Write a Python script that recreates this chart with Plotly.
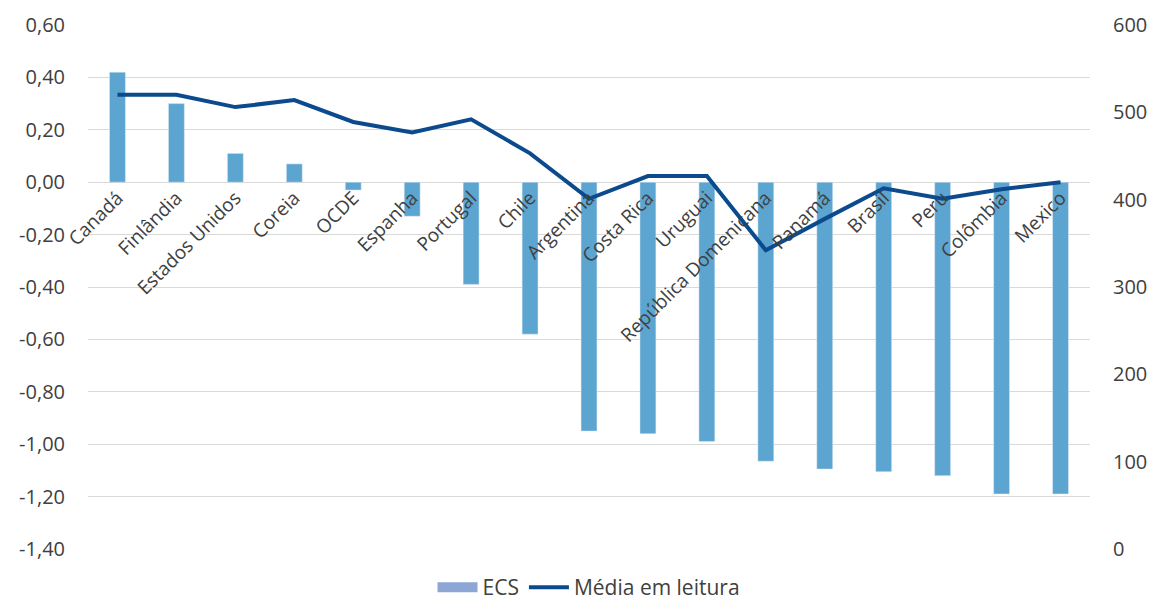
import plotly.graph_objects as go

# --- data ---
paises = [
    "Canadá", "Finlândia", "Estados Unidos", "Coreia", "OCDE", "Espanha",
    "Portugal", "Chile", "Argentina", "Costa Rica", "Uruguai",
    "República Domenicana", "Panamá", "Brasil", "Peru", "Colômbia", "Mexico",
]
ecs = [0.42, 0.30, 0.11, 0.07, -0.03, -0.13, -0.39, -0.58, -0.95, -0.96,
       -0.99, -1.065, -1.095, -1.105, -1.12, -1.19, -1.19]
media_leitura = [520, 520, 506, 514, 489, 477, 492, 453, 401, 427, 427,
                 342, 378, 413, 401, 412, 420]

ecs_ticks = [0.6, 0.4, 0.2, 0.0, -0.2, -0.4, -0.6, -0.8, -1.0, -1.2, -1.4]
leitura_ticks = [0, 100, 200, 300, 400, 500, 600]

BAR_COLOR = "#5BA5D0"
LINE_COLOR = "#0B4A8C"
LEGEND_BAR = "#8EA6D6"
TEXT = "#404040"
GRID = "#D9D9D9"
FONT = "Open Sans"

W, H = 1157, 600
M_TOP, M_BOTTOM = 17, 0
PLOT_BOTTOM = 541  # pixel row of the lowest gridline inside the figure

# Excel-style labels: comma decimal and a plain hyphen for negatives
ecs_ticktext = [f"{v:.2f}".replace(".", ",") for v in ecs_ticks]

# keep the legend inside the paper so it doesn't push the margins around
paper_h = H - M_TOP - M_BOTTOM
dom0 = (H - M_BOTTOM - PLOT_BOTTOM) / paper_h
y_lo, y_hi = -1.4, 0.6
zero_frac = dom0 + (0 - y_lo) / (y_hi - y_lo) * (1 - dom0)

fig = go.Figure()

fig.add_trace(go.Bar(
    x=paises, y=ecs, name="ECS", marker_color=BAR_COLOR,
    showlegend=False, yaxis="y",
))
# legend swatch for the bars (wide rectangle, as in the original)
fig.add_trace(go.Scatter(
    x=[None], y=[None], mode="lines", name="ECS",
    line=dict(color=LEGEND_BAR, width=12), yaxis="y",
))
fig.add_trace(go.Scatter(
    x=paises, y=media_leitura, name="Média em leitura", mode="lines",
    line=dict(color=LINE_COLOR, width=4), yaxis="y2",
))

fig.update_layout(
    width=W, height=H,
    margin=dict(l=80, r=75, t=M_TOP, b=M_BOTTOM, autoexpand=False),
    paper_bgcolor="white", plot_bgcolor="white",
    font=dict(family=FONT, size=20, color=TEXT),
    bargap=0.73,
    xaxis=dict(
        anchor="free", position=zero_frac, automargin=False,
        tickangle=-45, showgrid=False, showline=False, ticks="",
        tickfont=dict(size=19, color=TEXT),
        range=[-0.5, 16.5],
    ),
    yaxis=dict(
        domain=[dom0, 1],
        range=[y_lo, y_hi], tickvals=ecs_ticks, ticktext=ecs_ticktext,
        gridcolor=GRID, gridwidth=1, zeroline=False, automargin=False,
        showline=False, ticklabelstandoff=22,
    ),
    yaxis2=dict(
        domain=[dom0, 1],
        range=[0, 600], tickvals=leitura_ticks, overlaying="y", side="right",
        showgrid=False, zeroline=False, showline=False, automargin=False,
        ticklabelstandoff=22,
    ),
    legend=dict(
        orientation="h", x=0.5, xanchor="center", y=0, yanchor="bottom",
        font=dict(size=21, color=TEXT), itemwidth=40,
        traceorder="normal",
    ),
)

fig.write_html("out.html")
